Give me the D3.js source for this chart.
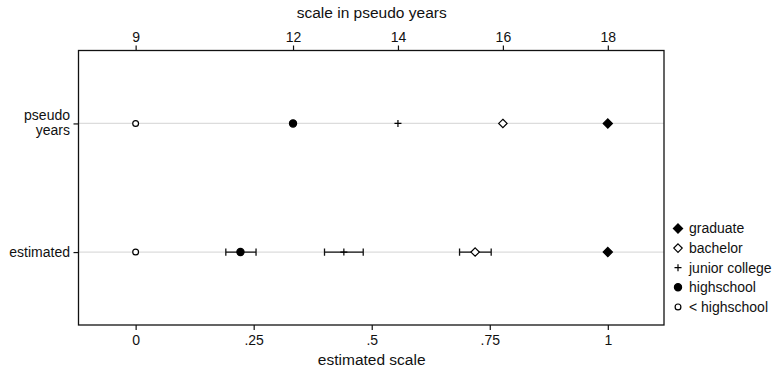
<!DOCTYPE html>
<html lang="en">
  <head>
    <meta charset="utf-8" />
    <script src="https://d3js.org/d3.v7.min.js"></script>
    <style>
      body { margin: 0; background: #fff; }
      text { font-family: "Liberation Sans", Arial, sans-serif; fill: #111; }
    </style>
  </head>
  <body>
    <svg id="chart" width="775" height="367"></svg>
    <script>
    // data
    var groups = ["graduate", "bachelor", "junior college", "highschool", "< highschool"];
    var symbols = ["diamondFilled", "diamondOpen", "plus", "circleFilled", "circleOpen"];
    var pseudoYears = [18, 16, 14, 12, 9];
    var estimated = [1, 0.719, 0.441, 0.222, 0];
    var ciLow = [null, 0.686, 0.400, 0.191, null];
    var ciHigh = [null, 0.753, 0.482, 0.255, null];
    var rows = ["pseudo years", "estimated"];
    var xTicks = [0, 0.25, 0.5, 0.75, 1];
    var xTickLabels = ["0", ".25", ".5", ".75", "1"];
    var yearTicks = [9, 12, 14, 16, 18];

    var svg = d3.select("#chart");
    var plotLeft = 78.5, plotRight = 664, plotTop = 50.5, plotBottom = 325;

    var x = d3.scaleLinear().domain([-0.121, 1.119]).range([plotLeft, plotRight]);
    var xYears = d3.scaleLinear().domain([9, 18]).range([x(0), x(1)]);
    var y = d3.scalePoint().domain(rows).range([plotTop, plotBottom]).padding(0.567);

    // grid lines
    svg.append("g").selectAll("line")
      .data(rows).enter().append("line")
        .attr("x1", plotLeft).attr("x2", plotRight)
        .attr("y1", function(d){ return y(d) }).attr("y2", function(d){ return y(d) })
        .style("stroke", "#dcdcdc").style("stroke-width", 1.2);

    // axes
    var tickFont = "14px", labelFont = "14px", titleFont = "15.5px";
    var bottomAxis = svg.append("g")
      .attr("transform", "translate(0," + plotBottom + ")")
      .call(d3.axisBottom(x).tickValues(xTicks).tickFormat(function(d, i){ return xTickLabels[i] }).tickSize(5).tickSizeOuter(0));
    var topAxis = svg.append("g")
      .attr("transform", "translate(0," + plotTop + ")")
      .call(d3.axisTop(xYears).tickValues(yearTicks).tickSize(5).tickSizeOuter(0));
    var leftAxis = svg.append("g")
      .attr("transform", "translate(" + plotLeft + ",0)")
      .call(d3.axisLeft(y).tickSize(5).tickSizeOuter(0).tickFormat(""));
    [bottomAxis, topAxis, leftAxis].forEach(function(a){
      a.select(".domain").remove();
      a.selectAll("line").style("stroke", "#111").style("stroke-width", 1.2);
      a.selectAll("text").style("font-size", tickFont).style("font-family", "Liberation Sans, Arial, sans-serif").attr("fill", "#111");
    });
    bottomAxis.selectAll("text").attr("y", 10);
    topAxis.selectAll("text").attr("y", -9);

    // row labels
    var rowLabels = svg.append("g");
    rowLabels.append("text").attr("x", 70).attr("y", y("pseudo years") - 3.5)
      .attr("text-anchor", "end").style("font-size", labelFont).text("pseudo");
    rowLabels.append("text").attr("x", 70).attr("y", y("pseudo years") + 11.5)
      .attr("text-anchor", "end").style("font-size", labelFont).text("years");
    rowLabels.append("text").attr("x", 70).attr("y", y("estimated")).attr("dy", "0.35em")
      .attr("text-anchor", "end").style("font-size", labelFont).text("estimated");

    // axis titles
    svg.append("text").attr("x", (x(0) + x(1)) / 2).attr("y", 18)
      .attr("text-anchor", "middle").style("font-size", titleFont).text("scale in pseudo years");
    svg.append("text").attr("x", (x(0) + x(1)) / 2).attr("y", 365)
      .attr("text-anchor", "middle").style("font-size", titleFont).text("estimated scale");

    // plot frame
    svg.append("rect")
      .attr("x", plotLeft).attr("y", plotTop)
      .attr("width", plotRight - plotLeft).attr("height", plotBottom - plotTop)
      .style("fill", "none").style("stroke", "#111").style("stroke-width", 1.3);

    function drawMarker(g, kind, cx, cy) {
      if (kind == "diamondFilled" || kind == "diamondOpen") {
        var s = kind == "diamondFilled" ? 4.6 : 4.2;
        g.append("path")
          .attr("d", "M" + cx + "," + (cy - s) + "L" + (cx + s) + "," + cy + "L" + cx + "," + (cy + s) + "L" + (cx - s) + "," + cy + "Z")
          .style("fill", kind == "diamondFilled" ? "#000" : "#fff")
          .style("stroke", "#000").style("stroke-width", 1.2);
      } else if (kind == "plus") {
        g.append("path")
          .attr("d", "M" + (cx - 3.5) + "," + cy + "H" + (cx + 3.5) + "M" + cx + "," + (cy - 3.5) + "V" + (cy + 3.5))
          .style("stroke", "#000").style("stroke-width", 1.2);
      } else {
        g.append("circle").attr("cx", cx).attr("cy", cy)
          .attr("r", kind == "circleFilled" ? 3.6 : 2.9)
          .style("fill", kind == "circleFilled" ? "#000" : "#fff")
          .style("stroke", "#000").style("stroke-width", 1.2);
      }
    }

    var marks = svg.append("g");
    // error bars on the estimated row
    groups.forEach(function(g, i){
      if (ciLow[i] == null) return;
      var cy = y("estimated");
      marks.append("path")
        .attr("d", "M" + x(ciLow[i]) + "," + cy + "H" + x(ciHigh[i]) +
          "M" + x(ciLow[i]) + "," + (cy - 3.6) + "V" + (cy + 3.6) +
          "M" + x(ciHigh[i]) + "," + (cy - 3.6) + "V" + (cy + 3.6))
        .style("stroke", "#111").style("stroke-width", 1.3).style("fill", "none");
    });
    groups.forEach(function(g, i){
      drawMarker(marks, symbols[i], xYears(pseudoYears[i]), y("pseudo years"));
      drawMarker(marks, symbols[i], x(estimated[i]), y("estimated"));
    });

    // legend
    var legend = svg.append("g");
    groups.forEach(function(g, i){
      var ly = 228.5 + i * 19.6;
      drawMarker(legend, symbols[i], 678, ly);
      legend.append("text").attr("x", 689).attr("y", ly).attr("dy", "0.35em")
        .style("font-size", labelFont).text(g);
    });
    </script>
  </body>
</html>
